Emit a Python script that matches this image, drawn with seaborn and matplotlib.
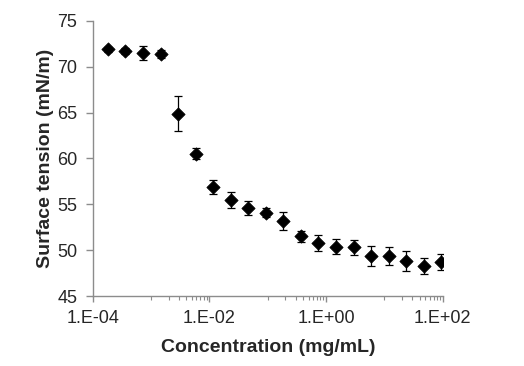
import numpy as np
import pandas as pd
import matplotlib
matplotlib.use("Agg")
import matplotlib.pyplot as plt
import seaborn as sns
from matplotlib.ticker import FixedLocator, FixedFormatter, NullFormatter

# concentration series (two-fold dilutions), mg/mL
concentration = [1.8e-4, 3.6e-4, 7.2e-4, 1.45e-3, 2.9e-3, 5.8e-3, 1.16e-2, 2.3e-2,
                 4.6e-2, 9.3e-2, 0.186, 0.37, 0.74, 1.48, 2.97, 5.9, 11.9, 23.8, 47.5, 95.0]
surface_tension = [71.9, 71.7, 71.5, 71.4, 64.9, 60.5, 56.9, 55.5, 54.6, 54.1,
                   53.2, 51.5, 50.8, 50.4, 50.3, 49.4, 49.4, 48.8, 48.3, 48.7]
error = [0.3, 0.3, 0.8, 0.4, 1.9, 0.6, 0.75, 0.85, 0.8, 0.5,
         1.0, 0.6, 0.9, 0.85, 0.85, 1.1, 1.0, 1.1, 0.9, 0.85]

x_major = [1e-4, 1e-2, 1e0, 1e2]
x_labels = ["1.E-04", "1.E-02", "1.E+00", "1.E+02"]
y_ticks = [45, 50, 55, 60, 65, 70, 75]

df = pd.DataFrame({"conc": concentration, "st": surface_tension, "err": error})

sns.set_style("white")
plt.rcParams["font.family"] = ["Liberation Sans", "DejaVu Sans"]

fig = plt.figure(figsize=(5.24, 3.66), dpi=100)
ax = fig.add_axes([0.177, 0.191, 0.668, 0.752])

ax.errorbar(df["conc"], df["st"], yerr=df["err"], fmt="none", ecolor="black",
            elinewidth=0.9, capsize=3.2, capthick=0.9, zorder=2)
sns.scatterplot(data=df, x="conc", y="st", marker="D", s=46, color="black",
                edgecolor="black", linewidth=0.5, ax=ax, zorder=3)

ax.set_xscale("log")
ax.set_xlim(1e-4, 1e2)
ax.set_ylim(45, 75)

minor = [b * m for b in [1e-4, 1e-2, 1e0] for m in range(10, 100, 10)]
ax.xaxis.set_major_locator(FixedLocator(x_major))
ax.xaxis.set_major_formatter(FixedFormatter(x_labels))
ax.xaxis.set_minor_locator(FixedLocator(minor))
ax.xaxis.set_minor_formatter(NullFormatter())
ax.set_yticks(y_ticks)

spine_color = "#8c8c8c"
for side in ["top", "right"]:
    ax.spines[side].set_visible(False)
for side in ["left", "bottom"]:
    ax.spines[side].set_color(spine_color)
    ax.spines[side].set_linewidth(1.0)

ax.tick_params(axis="y", which="major", direction="out", length=5, width=1.0,
               color=spine_color, labelsize=13, pad=6, left=True)
ax.tick_params(axis="x", which="major", direction="out", length=4, width=1.0,
               color=spine_color, labelsize=13, pad=6, bottom=True)
ax.tick_params(axis="x", which="minor", direction="out", length=3, width=0.8,
               color=spine_color, bottom=True)

ax.set_xlabel("Concentration (mg/mL)", fontsize=14, fontweight="bold", labelpad=9)
ax.set_ylabel("Surface tension (mN/m)", fontsize=14, fontweight="bold", labelpad=2)

fig.savefig("out.png", dpi=100)
